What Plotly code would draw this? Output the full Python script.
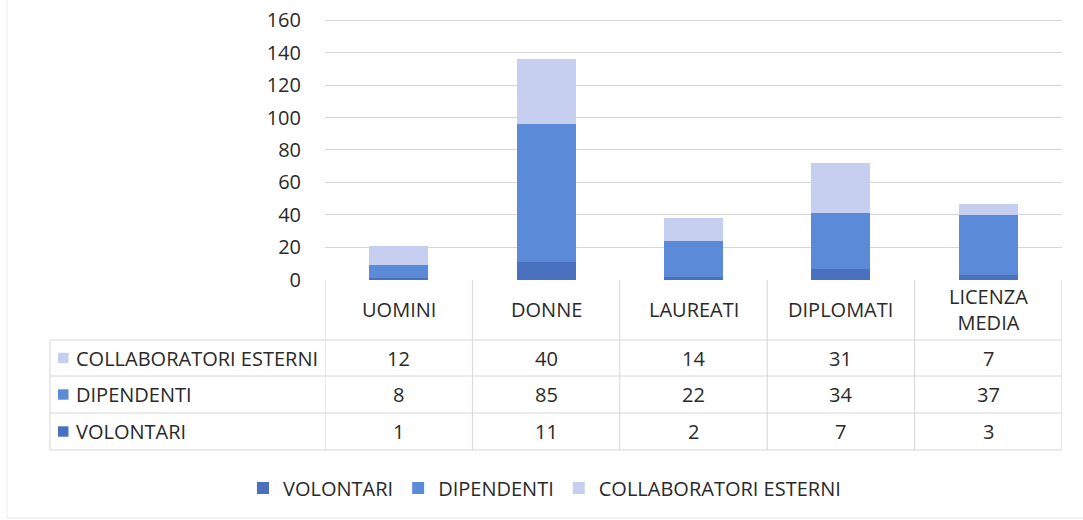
import plotly.graph_objects as go

categories = ["UOMINI", "DONNE", "LAUREATI", "DIPLOMATI", "LICENZA MEDIA"]
header_labels = ["UOMINI", "DONNE", "LAUREATI", "DIPLOMATI", "LICENZA<br>MEDIA"]
volontari = [1, 11, 2, 7, 3]
dipendenti = [8, 85, 22, 34, 37]
collaboratori = [12, 40, 14, 31, 7]

series_names = ["VOLONTARI", "DIPENDENTI", "COLLABORATORI ESTERNI"]
series_values = [volontari, dipendenti, collaboratori]
colors = ["#4a71c0", "#5b8bd8", "#c6cff0"]

W, H = 1083, 520
FONT = "Open Sans, sans-serif"
FS = 20
TXT = "#2a2a2a"
LINE = "#d6d6d6"
YMAX = 161  # a little headroom so the 160 gridline is drawn


def py(p):  # window pixel y -> paper
    return (H - p) / H


def px(p):  # window pixel x -> paper
    return p / W


fig = go.Figure()
for name, vals, col in zip(series_names, series_values, colors):
    fig.add_trace(go.Bar(x=categories, y=vals, name=name,
                         marker=dict(color=col, line=dict(width=0))))

x0, x1 = 325, 1062
y_zero, y_160 = 280, 20
y_top = y_zero - (y_zero - y_160) * YMAX / 160
fig.update_layout(
    width=W, height=H,
    margin=dict(l=0, r=0, t=0, b=0, autoexpand=False),
    paper_bgcolor="white", plot_bgcolor="white",
    barmode="stack", bargap=0.6,
    font=dict(family=FONT, size=FS, color=TXT),
    xaxis=dict(domain=[px(x0), px(x1)], showticklabels=False, showgrid=False,
               zeroline=False, showline=False, range=[-0.5, 4.5], fixedrange=True,
               automargin=False),
    yaxis=dict(domain=[py(y_zero), py(y_top)], range=[0, YMAX], tick0=0, dtick=20,
               showgrid=True, gridcolor=LINE, gridwidth=1, zeroline=False, showline=False,
               ticks="", ticklabelstandoff=23, automargin=False,
               ticklabeloverflow="allow",
               tickfont=dict(size=FS, color=TXT)),
    legend=dict(orientation="h", x=px(243), xanchor="left", y=py(488), yanchor="middle",
                traceorder="normal", font=dict(size=FS, color=TXT), itemwidth=30),
    showlegend=True,
)

shapes = []
annotations = []
# faint outer frame of the scanned chart
shapes.append(dict(type="line", xref="paper", yref="paper", x0=px(7), x1=px(7),
                   y0=py(0), y1=py(518), line=dict(color="#ececec", width=1)))
shapes.append(dict(type="line", xref="paper", yref="paper", x0=px(7), x1=1,
                   y0=py(518), y1=py(518), line=dict(color="#e4e4ee", width=1)))

# table grid
row_lines = [340, 376, 413, 450]
for yy in row_lines:
    shapes.append(dict(type="line", xref="paper", yref="paper", x0=px(50), x1=px(x1),
                       y0=py(yy), y1=py(yy), line=dict(color=LINE, width=1)))
shapes.append(dict(type="line", xref="paper", yref="paper", x0=px(50), x1=px(50),
                   y0=py(340), y1=py(450), line=dict(color=LINE, width=1)))
for i in range(len(categories) + 1):
    shapes.append(dict(type="line", xref="x", yref="paper", x0=i - 0.5, x1=i - 0.5,
                       y0=py(280), y1=py(450), line=dict(color=LINE, width=1)))

# header labels
for i, lab in enumerate(header_labels):
    annotations.append(dict(x=i, y=py(309), xref="x", yref="paper", text=lab, showarrow=False,
                            font=dict(size=FS, color=TXT), xanchor="center", yanchor="middle"))

# table rows (top to bottom: collaboratori, dipendenti, volontari)
row_centers = [358, 394.5, 431.5]
row_series = [2, 1, 0]
for rc, si in zip(row_centers, row_series):
    shapes.append(dict(type="rect", xref="paper", yref="paper", x0=px(58), x1=px(68.5),
                       y0=py(rc + 5.2), y1=py(rc - 5.2), fillcolor=colors[si],
                       line=dict(width=0)))
    annotations.append(dict(x=px(74), y=py(rc), xref="paper", yref="paper",
                            text=series_names[si], showarrow=False, xanchor="left",
                            yanchor="middle", font=dict(size=FS, color=TXT)))
    for i, v in enumerate(series_values[si]):
        annotations.append(dict(x=i, y=py(rc), xref="x", yref="paper", text=str(v),
                                showarrow=False, xanchor="center", yanchor="middle",
                                font=dict(size=FS, color=TXT)))

fig.update_layout(shapes=shapes, annotations=annotations)
# remove the page's default 8px body margin so the figure fills the window
fig.write_html("out.html", config={"displayModeBar": False},
               post_script="document.body.style.margin='0px';")
